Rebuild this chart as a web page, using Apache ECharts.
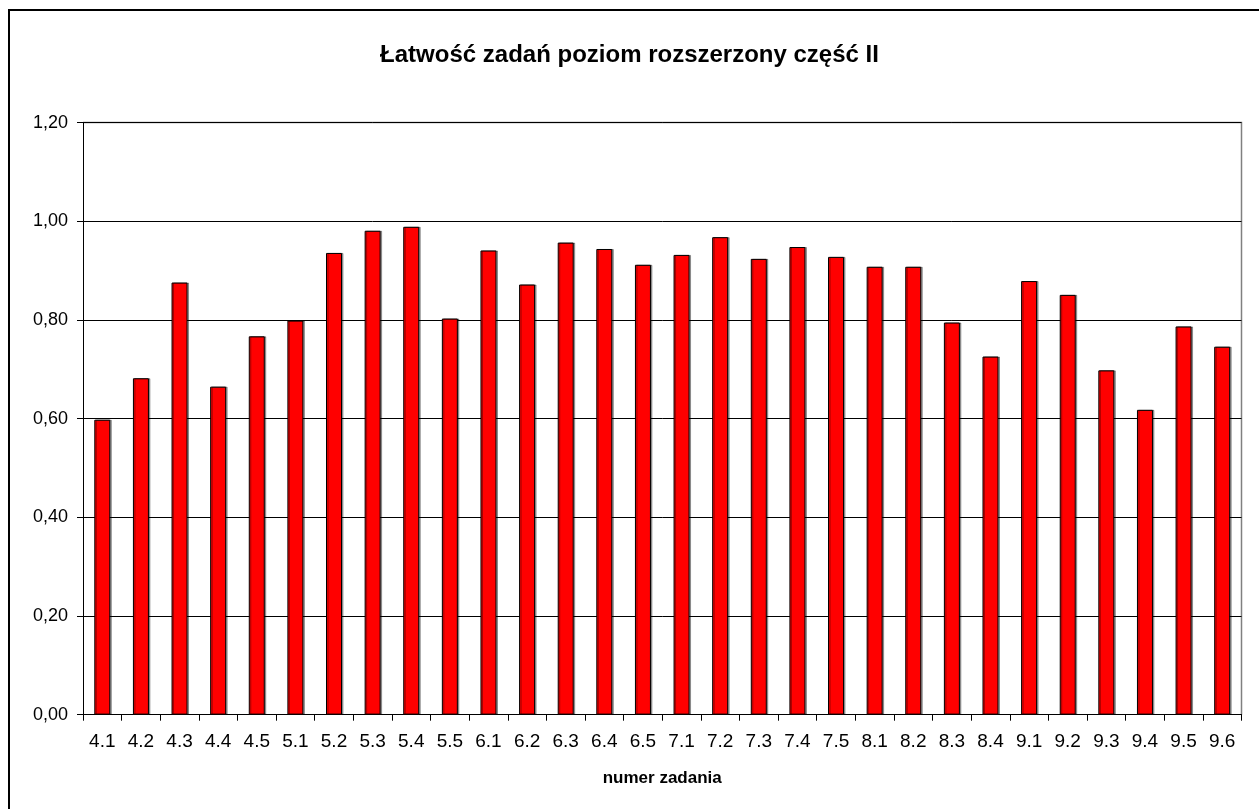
<!DOCTYPE html>
<html>
<head>
<meta charset="utf-8">
<script src="https://cdn.jsdelivr.net/npm/echarts@6/dist/echarts.min.js"></script>
<style>
  html, body { margin: 0; padding: 0; background: #fff; }
  #main { width: 1259px; height: 809px; }
</style>
</head>
<body>
<div id="main"></div>
<script>
// numery zadań
var categories = ['4.1', '4.2', '4.3', '4.4', '4.5', '5.1', '5.2', '5.3', '5.4', '5.5',
  '6.1', '6.2', '6.3', '6.4', '6.5', '7.1', '7.2', '7.3', '7.4', '7.5',
  '8.1', '8.2', '8.3', '8.4', '9.1', '9.2', '9.3', '9.4', '9.5', '9.6']
// łatwość
var values = [0.598, 0.682, 0.876, 0.665, 0.767, 0.799, 0.936, 0.981, 0.989, 0.803,
  0.941, 0.872, 0.957, 0.944, 0.912, 0.932, 0.968, 0.924, 0.948, 0.928,
  0.908, 0.908, 0.795, 0.726, 0.879, 0.851, 0.698, 0.618, 0.787, 0.746]
var yTicks = [0, 0.2, 0.4, 0.6, 0.8, 1.0, 1.2]

var font = "'Liberation Sans', Arial, sans-serif"
var chart = echarts.init(document.getElementById('main'))

chart.setOption({
  animation: false,
  backgroundColor: '#fff',
  title: {
    text: 'Łatwość zadań poziom rozszerzony część II',
    left: 'center',
    top: 38,
    textStyle: { fontFamily: font, fontSize: 24, fontWeight: 'bold', color: '#000' }
  },
  graphic: [{
    type: 'rect',
    shape: { x: 9, y: 10, width: 1300, height: 900 },
    style: { fill: 'none', stroke: '#000', lineWidth: 2 },
    silent: true
  }, {
    // ramka obszaru wykresu (góra i prawa strona)
    type: 'polyline',
    shape: { points: [[83, 122.5], [1241.5, 122.5], [1241.5, 714.7]] },
    style: { stroke: '#808080', lineWidth: 1.5, fill: 'none' },
    silent: true
  }],
  grid: { left: 83, right: 17.5, top: 122.7, bottom: 94.3 },
  xAxis: {
    type: 'category',
    data: categories,
    name: 'numer zadania',
    nameLocation: 'middle',
    nameGap: 55,
    nameTextStyle: { fontFamily: font, fontSize: 17, fontWeight: 'bold', color: '#000' },
    axisLine: { lineStyle: { color: '#000', width: 1 } },
    axisTick: { show: true, alignWithLabel: false, length: 6, lineStyle: { color: '#000' } },
    axisLabel: { fontFamily: font, fontSize: 19, color: '#000', margin: 18, interval: 0 }
  },
  yAxis: {
    type: 'value',
    min: yTicks[0],
    max: yTicks[yTicks.length - 1],
    interval: 0.2,
    axisLine: { show: true, lineStyle: { color: '#000', width: 1 } },
    axisTick: { show: true, length: 6, lineStyle: { color: '#000' } },
    axisLabel: {
      fontFamily: font, fontSize: 18, color: '#000', margin: 15,
      formatter: function (v) { return v.toFixed(2).replace('.', ',') }
    },
    splitLine: { lineStyle: { color: '#000', width: 1 } }
  },
  series: [{
    type: 'bar',
    data: values,
    barWidth: 16,
    itemStyle: {
      color: '#ff0000',
      borderColor: '#000',
      borderWidth: 1,
      shadowColor: 'rgba(0,0,0,0.35)',
      shadowOffsetX: 1.5,
      shadowOffsetY: 0
    }
  }]
})
</script>
</body>
</html>
